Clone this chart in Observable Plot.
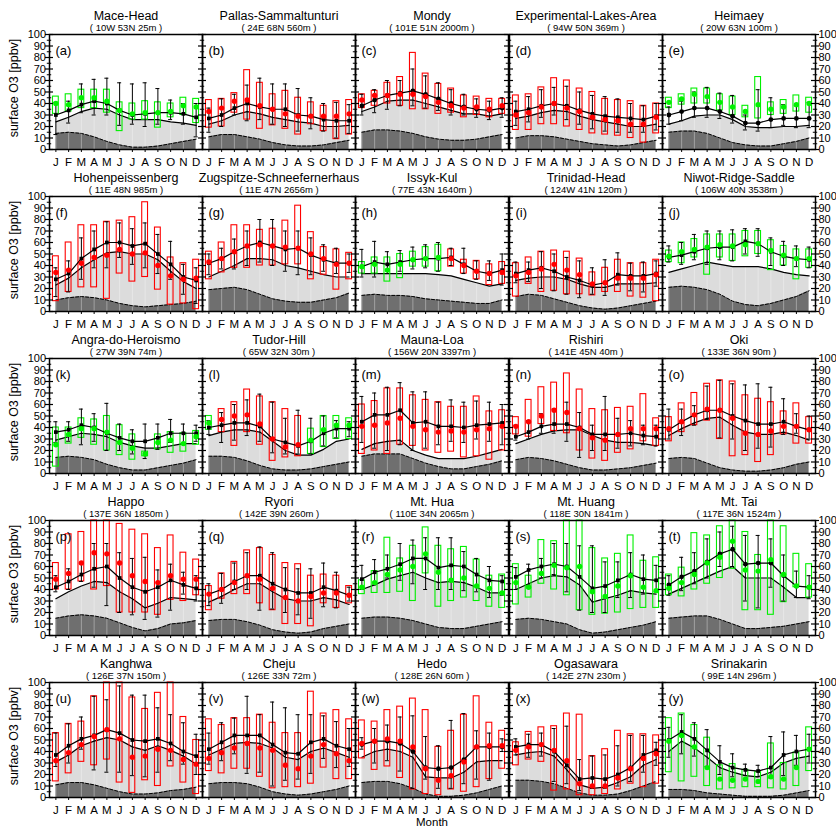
<!DOCTYPE html>
<html><head><meta charset="utf-8">
<script src="https://cdn.jsdelivr.net/npm/d3@7"></script>
<script src="https://cdn.jsdelivr.net/npm/@observablehq/plot@0.6"></script>
<style>
body{margin:0;background:#fff;}
#wrap{position:relative;width:836px;height:827px;overflow:hidden;font-family:"Liberation Sans",Arial,sans-serif;}
#wrap svg{position:absolute;}
</style></head><body><div id="wrap"></div>
<script>
const months = ["J","F","M","A","M","J","J","A","S","O","N","D"];
const stations = ["Mace-Head","Pallas-Sammaltunturi","Mondy","Experimental-Lakes-Area","Heimaey",
 "Hohenpeissenberg","Zugspitze-Schneefernerhaus","Issyk-Kul","Trinidad-Head","Niwot-Ridge-Saddle",
 "Angra-do-Heroismo","Tudor-Hill","Mauna-Loa","Rishiri","Oki",
 "Happo","Ryori","Mt. Hua","Mt. Huang","Mt. Tai",
 "Kanghwa","Cheju","Hedo","Ogasawara","Srinakarin"];
const coords = ["( 10W 53N 25m )","( 24E 68N 560m )","( 101E 51N 2000m )","( 94W 50N 369m )","( 20W 63N 100m )",
 "( 11E 48N 985m )","( 11E 47N 2656m )","( 77E 43N 1640m )","( 124W 41N 120m )","( 106W 40N 3538m )",
 "( 27W 39N 74m )","( 65W 32N 30m )","( 156W 20N 3397m )","( 141E 45N 40m )","( 133E 36N 90m )",
 "( 137E 36N 1850m )","( 142E 39N 260m )","( 110E 34N 2065m )","( 118E 30N 1841m )","( 117E 36N 1524m )",
 "( 126E 37N 150m )","( 126E 33N 72m )","( 128E 26N 60m )","( 142E 27N 230m )","( 99E 14N 296m )"];
const letters = "abcdefghijklmnopqrstuvwxy".split("");
const yTicks = [0,10,20,30,40,50,60,70,80,90,100];
const yMinor = [5,15,25,35,45,55,65,75,85,95];

// model mean (black markers and upper line)
const modMean = [
 [30,34,39,42,40,34,30,31,32,32,31,28],
 [27,30,36,40,37,35,35,30,29,26,25,25],
 [38,43,47,49,51,48,44,40,37,35,34,36],
 [33,35,38,40,38,34,31,29,28,27,26,29],
 [30,33,36,36,33,29,23,23,26,27,27,27],
 [28,33,46,54,60,60,57,59,50,41,30,27],
 [42,46,52,57,60,57,54,55,49,45,42,42],
 [39,43,41,43,45,46,46,47,41,35,33,36],
 [33,36,38,35,30,27,23,25,32,31,31,33],
 [47,49,52,55,56,56,61,59,52,48,46,45],
 [36,38,42,40,35,31,28,28,31,35,35,35],
 [40,42,44,44,41,30,27,24,28,35,39,39],
 [45,51,51,55,44,45,41,41,40,42,43,44],
 [32,36,41,43,43,40,34,34,34,35,33,32],
 [38,45,51,55,55,50,46,43,43,45,41,38],
 [42,47,53,58,60,50,42,38,42,48,44,41],
 [36,40,47,52,52,45,40,37,37,42,39,35],
 [49,55,58,62,67,67,59,61,60,53,48,47],
 [51,57,60,62,60,51,41,43,48,53,49,48],
 [44,51,56,64,71,75,62,63,63,52,43,42],
 [37,45,51,54,59,56,50,49,51,47,40,36],
 [42,48,54,54,54,46,39,38,48,51,45,42],
 [46,49,49,47,40,26,25,26,33,44,44,44],
 [44,46,46,40,28,16,17,16,20,26,37,41],
 [50,57,51,41,31,26,24,23,26,37,40,42]];
const modLow = [
 [13,23,32,30,30,21,22,20,22,26,22,11],
 [15,20,30,25,26,22,20,16,18,16,10,14],
 [30,32,35,38,38,36,34,30,30,28,26,28],
 [21,24,28,30,26,22,18,16,15,15,15,17],
 [22,25,28,28,27,23,17,16,19,21,19,19],
 [13,17,28,38,38,47,41,38,33,28,15,7],
 [32,37,37,40,43,40,35,32,32,35,33,34],
 [30,30,33,35,37,38,35,40,33,28,27,23],
 [25,26,20,18,15,12,15,14,23,18,17,22],
 [43,41,45,41,45,44,50,48,40,40,39,38],
 [27,28,25,28,20,20,17,13,21,27,26,28],
 [34,27,29,33,28,18,17,17,17,24,31,32],
 [27,22,20,25,20,22,25,28,27,30,28,25],
 [29,30,35,35,28,14,20,20,22,24,25,24],
 [30,33,42,47,31,30,20,22,23,34,35,30],
 [38,40,47,42,26,20,18,14,16,22,36,30],
 [26,28,40,40,22,23,20,18,15,25,24,30],
 [40,44,50,48,45,40,40,40,39,38,33,35],
 [40,44,50,53,38,22,20,20,33,33,36,38],
 [35,39,45,50,60,60,30,24,42,30,33,32],
 [27,30,42,24,22,22,19,18,22,32,29,20],
 [29,32,38,21,22,10,15,16,21,34,26,27],
 [42,30,32,23,8,16,8,8,12,16,15,40],
 [37,35,36,14,12,6,8,8,10,14,22,28],
 [35,38,36,27,20,18,19,18,17,19,28,30]];
const modHigh = [
 [41,42,57,61,62,58,57,58,53,43,40,40],
 [36,44,48,56,62,57,57,53,45,40,41,39],
 [48,52,60,60,70,64,58,52,48,44,42,45],
 [42,46,52,54,55,50,47,46,44,40,38,40],
 [37,42,50,54,49,47,30,52,45,39,38,41],
 [38,44,64,70,78,77,72,77,67,61,41,38],
 [50,55,63,70,80,80,70,70,64,58,55,50],
 [54,61,52,53,56,58,60,55,55,44,44,50],
 [43,43,52,50,47,44,38,45,51,42,43,44],
 [57,60,67,70,70,71,72,72,64,61,57,56],
 [45,45,56,52,61,43,38,43,43,47,43,42],
 [46,53,60,64,69,62,48,55,48,50,46,45],
 [67,70,75,79,71,71,62,64,62,63,62,60],
 [42,46,52,56,62,53,42,67,48,46,42,42],
 [56,56,59,76,81,78,77,78,75,65,52,50],
 [52,58,63,80,80,72,67,68,57,62,55,52],
 [45,54,63,72,77,72,59,58,58,63,55,42],
 [61,66,70,80,83,85,85,85,73,67,60,52],
 [59,62,67,80,80,78,78,64,64,72,70,61],
 [52,68,72,84,90,95,87,87,84,70,56,52],
 [56,64,70,88,85,97,89,89,78,72,65,55],
 [56,65,69,88,72,83,78,72,72,71,66,60],
 [52,60,63,70,71,53,45,67,73,58,56,51],
 [51,55,56,60,62,33,36,37,45,54,54,48],
 [61,72,65,59,45,38,29,28,53,57,54,55]];
// observations (coloured dots and boxes)
const obsMean = [
 [40,39,45,45,42,34,31,32,32,33,38,37],
 [33,36,42,43,38,35,31,29,29,29,29,31],
 [43,47,47,48,48,46,41,38,36,37,35,38],
 [30,32,37,40,36,33,28,26,25,22,22,28],
 [41,44,48,46,41,37,33,39,35,37,39,40],
 [34,36,42,47,49,54,50,51,40,31,28,29],
 [43,46,52,57,58,57,56,55,50,46,41,42],
 [39,41,36,41,45,46,47,46,40,35,33,34],
 [31,34,37,41,36,32,24,25,29,29,29,32],
 [48,52,54,56,58,57,58,59,53,49,46,46],
 [25,34,39,39,36,27,22,17,27,29,26,32],
 [44,47,50,51,43,30,23,25,29,38,42,42],
 [41,42,44,48,41,38,36,37,36,38,39,41],
 [41,45,50,55,53,39,31,29,34,39,39,39],
 [39,45,51,56,55,48,35,34,37,41,41,38],
 [49,54,63,72,71,63,52,47,46,52,49,49],
 [36,40,46,52,49,41,33,30,34,37,37,35],
 [42,46,53,57,60,71,55,48,50,43,41,37],
 [46,42,54,61,59,60,38,34,43,52,42,39],
 [41,46,53,63,68,82,57,56,66,53,43,42],
 [32,39,46,53,59,51,35,36,42,41,33,29],
 [34,39,43,47,43,41,28,25,36,46,38,32],
 [47,49,51,49,44,25,15,19,31,44,45,45],
 [41,44,46,41,32,12,10,10,17,25,34,38],
 [49,54,44,26,16,15,16,14,18,16,26,42]];
const obsLow = [
 [31,33,36,36,32,16,26,26,19,28,30,23],
 [19,20,32,26,18,21,18,13,22,16,9,13],
 [36,38,40,38,35,35,31,32,28,30,28,31],
 [17,17,22,22,20,17,14,13,12,10,6,14],
 [36,39,40,40,34,30,28,27,30,31,33,32],
 [9,17,21,21,11,33,26,30,19,6,7,2],
 [28,34,38,38,40,40,41,41,28,32,19,28],
 [33,33,26,29,39,39,35,39,33,28,23,24],
 [13,24,17,18,15,15,14,17,17,13,12,9],
 [43,42,47,32,47,44,48,50,36,40,28,38],
 [6,26,31,25,20,16,12,15,21,18,19,25],
 [38,36,24,36,25,11,14,15,17,23,30,30],
 [17,20,17,25,24,20,18,19,14,15,12,20],
 [34,32,43,37,35,20,13,11,18,21,28,24],
 [28,36,42,46,30,15,16,10,16,34,26,26],
 [40,40,47,40,43,20,20,20,18,31,30,35],
 [22,32,36,36,28,22,10,10,8,28,24,28],
 [36,37,37,38,30,54,25,30,33,30,25,24],
 [27,33,45,40,35,22,18,19,20,23,24,24],
 [35,34,40,45,50,58,22,22,18,29,42,33],
 [14,21,31,28,33,13,4,15,10,27,13,3],
 [23,21,25,25,18,8,9,9,12,26,16,16],
 [34,24,27,17,7,3,2,7,5,9,16,25],
 [28,33,31,6,7,2,2,3,7,12,9,12],
 [22,14,18,10,7,8,9,9,8,7,10,23]];
const obsHigh = [
 [46,48,52,52,52,41,40,42,41,40,45,44],
 [43,44,49,69,58,48,51,45,41,38,42,43],
 [48,51,58,63,84,66,57,53,47,46,44,44],
 [47,48,54,62,60,53,50,44,43,42,38,40],
 [45,48,53,53,48,46,38,63,41,43,47,45],
 [48,60,75,75,78,79,82,95,73,47,42,45],
 [52,60,75,75,71,72,79,92,69,56,54,51],
 [43,47,47,50,52,56,58,54,45,44,41,43],
 [42,47,52,53,52,46,34,38,45,42,42,45],
 [53,60,63,67,67,67,70,70,62,57,54,54],
 [40,40,48,47,50,42,34,19,34,36,35,37],
 [50,56,62,73,67,62,56,50,39,50,50,48],
 [60,63,74,74,68,64,62,58,58,67,54,55],
 [49,64,75,79,87,73,56,55,57,58,69,48],
 [49,61,70,78,81,80,68,65,62,54,61,49],
 [63,88,90,100,100,97,92,88,76,87,72,66],
 [43,54,64,74,76,70,63,62,52,53,52,43],
 [48,56,85,67,78,94,78,75,77,66,52,53],
 [62,52,83,82,100,100,76,67,71,87,65,68],
 [53,59,89,87,95,100,90,70,100,95,71,62],
 [56,64,66,88,100,100,87,77,91,100,70,50],
 [68,63,69,69,72,65,56,56,92,73,76,68],
 [67,66,76,79,86,76,44,58,72,88,65,58],
 [48,57,61,62,73,72,36,42,58,55,55,54],
 [69,73,63,52,28,29,24,22,47,30,39,61]];
const obsColor = [
 "gggggggggggg","rrrrrrrrrrrr","rrrrrrrrrrrr","rrrrrrrrrrrr","gggggggggggg",
 "rrrrrrrrrrrr","rrrrrrrrrrrr","gggggggrrrrr","rrrrrrrrrrrr","gggggggggggg",
 "gggggggggggg","grrrrrrrgggg","rrrrrrrrrrrr","rrrrrrrrrrrr","rrrrrrrrrrrr",
 "rrrrrrrrrrrr","rrrrrrrrrrrr","gggggggggggg","gggggggggggg","gggggggggggg",
 "rrrrrrrrrrrr","rrrrrrrrrrrr","rrrrrrrrrrrr","rrrrrrrrrrrr","gggggggggggg"];
// lower solid line (top of light grey) and dashed line (top of dark grey)
const lowerLine = [
 [24,28,33,36,35,30,26,26,26,24,23,21],
 [22,25,30,33,31,28,26,24,23,20,20,21],
 [33,37,42,43,43,40,37,34,31,31,29,31],
 [27,29,32,34,33,29,26,24,22,20,20,22],
 [22,25,29,30,30,26,20,19,19,20,20,21],
 [23,29,38,45,51,52,50,50,45,35,26,20],
 [30,35,40,46,46,45,40,38,35,32,30,30],
 [33,33,33,33,33,33,32,31,28,25,22,24],
 [27,29,30,30,28,24,21,21,24,24,24,25],
 [34,37,40,43,41,39,39,39,37,34,32,31],
 [29,32,35,34,32,27,24,22,22,24,26,26],
 [33,36,38,38,36,28,20,16,16,21,28,30],
 [21,26,28,29,20,16,13,13,13,15,18,21],
 [26,30,34,37,38,38,33,29,27,27,26,24],
 [33,39,44,48,49,42,36,34,34,36,33,29],
 [32,38,43,47,46,38,32,24,28,33,32,31],
 [29,34,40,45,45,38,32,30,30,33,31,27],
 [40,44,49,52,55,50,46,47,46,42,37,37],
 [40,45,50,52,51,44,29,32,35,39,37,36],
 [36,41,46,51,56,60,50,50,50,42,33,33],
 [31,37,45,49,52,50,44,41,45,41,36,29],
 [37,42,47,48,47,43,35,33,40,43,39,35],
 [35,40,42,40,35,18,17,17,22,31,32,32],
 [37,39,40,36,24,11,8,9,13,18,28,33],
 [40,49,43,35,26,22,19,18,22,30,34,36]];
const bgLine = [
 [14,15,14,11,7,4,2,2,3,5,7,9],
 [11,13,13,11,9,6,4,3,3,4,6,8],
 [15,17,17,16,14,11,9,8,8,9,11,13],
 [10,12,12,11,9,7,5,4,3,4,6,8],
 [15,16,16,14,10,6,4,3,3,5,7,10],
 [10,12,13,12,10,7,5,4,5,6,7,9],
 [19,20,21,19,15,11,9,8,8,10,12,16],
 [14,15,14,14,13,11,10,9,8,7,7,10],
 [13,15,14,11,8,5,3,2,3,5,7,9],
 [21,22,21,19,15,9,6,5,7,10,13,18],
 [14,15,14,12,8,5,3,3,5,7,9,12],
 [15,15,14,11,7,4,3,3,4,6,8,10],
 [15,17,17,17,13,9,6,4,4,6,8,11],
 [12,14,13,11,8,5,3,3,4,5,7,9],
 [13,14,13,9,5,3,2,2,3,5,8,10],
 [15,17,18,17,15,11,7,4,6,10,11,13],
 [13,14,14,12,9,5,3,2,3,6,8,10],
 [15,16,16,15,13,10,7,6,6,8,10,12],
 [14,15,14,12,10,5,2,3,5,7,9,12],
 [15,16,17,17,14,10,6,6,7,8,10,12],
 [11,13,13,11,8,5,3,3,4,6,7,9],
 [12,13,13,12,9,5,3,2,3,5,7,10],
 [13,14,14,12,8,3,1,1,2,4,7,10],
 [15,15,14,12,8,4,2,2,3,6,10,14],
 [7,7,6,4,3,2,1,1,1,2,4,6]];
const markerShape = "sscscsssssssssssssscsscssc".slice(0,25);

const RED = "#ff0000", GREEN = "#00f000", LIGHT = "#dcdcdc", DARK = "#6f6f6f";
const W = 153, H = 115, U = W / 12;
const wrap = document.getElementById("wrap");

function drawPanel(i) {
  const r = Math.floor(i / 5), c = i % 5;
  const data = months.map((m, k) => ({
    k, mod: modMean[i][k], lo: modLow[i][k], hi: modHigh[i][k],
    obs: obsMean[i][k], olo: obsLow[i][k], ohi: obsHigh[i][k],
    col: obsColor[i][k] === "g" ? GREEN : RED,
    low: lowerLine[i][k], bg: bgLine[i][k]
  }));
  const L = -0.5, R = 11.5, maj = 4 / U, mnr = 2.2 / U, BOX = 2.9 / U, CAP = 2 / U;
  const sq = markerShape[i] === "s";
  const marks = [
    Plot.areaY(data, {x: "k", y: "low", fill: LIGHT}),
    Plot.areaY(data, {x: "k", y: "bg", fill: DARK}),
    Plot.ruleX(data, {x: "k", y1: 0, y2: "low", stroke: "#fff", strokeOpacity: 0.5, strokeWidth: 0.7}),
    Plot.lineY(data, {x: "k", y: "bg", stroke: "#000", strokeWidth: 1, strokeDasharray: "3,2"}),
    Plot.lineY(data, {x: "k", y: "low", stroke: "#000", strokeWidth: 1.2}),
    Plot.rect(data, {x1: d => d.k - BOX, x2: d => d.k + BOX, y1: "olo", y2: "ohi", stroke: "col", strokeWidth: 1.1, fill: "none"}),
    Plot.ruleX(data, {x: "k", y1: "lo", y2: "hi", stroke: "#000", strokeWidth: 1}),
    Plot.ruleY(data, {y: "lo", x1: d => d.k - CAP, x2: d => d.k + CAP, stroke: "#000", strokeWidth: 1}),
    Plot.ruleY(data, {y: "hi", x1: d => d.k - CAP, x2: d => d.k + CAP, stroke: "#000", strokeWidth: 1}),
    Plot.lineY(data, {x: "k", y: "mod", stroke: "#000", strokeWidth: 1.2}),
    Plot.dot(data, {x: "k", y: "mod", fill: "#000", symbol: sq ? "square" : "circle", r: sq ? 2.1 : 2.4}),
    Plot.dot(data, {x: "k", y: "obs", fill: "col", r: 2.7}),
    Plot.frame({stroke: "#000", strokeWidth: 1.5}),
    Plot.ruleY(yTicks, {y: d => d, x1: L - (c === 0 ? maj : 0), x2: L + maj, stroke: "#000", strokeWidth: 1.2}),
    Plot.ruleY(yMinor, {y: d => d, x1: L - (c === 0 ? mnr : 0), x2: L + mnr, stroke: "#000", strokeWidth: 1}),
    Plot.ruleY(yTicks, {y: d => d, x1: R - maj, x2: R + (c === 4 ? maj : 0), stroke: "#000", strokeWidth: 1.2}),
    Plot.ruleY(yMinor, {y: d => d, x1: R - mnr, x2: R + (c === 4 ? mnr : 0), stroke: "#000", strokeWidth: 1}),
    Plot.ruleX(months, {x: (d, k) => k, y1: 0, y2: -2.6, stroke: "#000", strokeWidth: 1}),
    Plot.text(months, {x: (d, k) => k, text: d => d, frameAnchor: "bottom", dy: 13, lineAnchor: "middle", fontSize: 11.5}),
    Plot.text([stations[i]], {text: d => d, frameAnchor: "top", dy: -19, lineAnchor: "middle", fontSize: 12.5}),
    Plot.text([coords[i]], {text: d => d, frameAnchor: "top", dy: -7, lineAnchor: "middle", fontSize: 9.5}),
    Plot.text([`(${letters[i]})`], {text: d => d, frameAnchor: "top-left", dx: 6, dy: 16, textAnchor: "start", lineAnchor: "middle", fontSize: 13})
  ];
  if (c === 0) {
    marks.push(Plot.text(yTicks, {x: L, y: d => d, text: d => String(d), dx: -3.5, textAnchor: "end", lineAnchor: "middle", fontSize: 11}));
    marks.push(Plot.text(["surface O3 [ppbv]"], {text: d => d, frameAnchor: "left", dx: -36, dy: -4, rotate: -90, textAnchor: "middle", lineAnchor: "middle", fontSize: 12.5}));
  }
  if (c === 4) {
    marks.push(Plot.text(yTicks, {x: R, y: d => d, text: d => String(d), dx: 3, textAnchor: "start", lineAnchor: "middle", fontSize: 11}));
  }
  if (r === 4 && c === 2) {
    marks.push(Plot.text(["Month"], {text: d => d, frameAnchor: "bottom", dy: 24.5, lineAnchor: "middle", fontSize: 11.5}));
  }
  const svg = Plot.plot({
    width: W, height: H,
    marginTop: 0, marginBottom: 0, marginLeft: 0, marginRight: 0,
    x: {domain: [L, R], axis: null},
    y: {domain: [0, 100], axis: null},
    color: {type: "identity"},
    style: {background: "transparent", overflow: "visible", fontFamily: "'Liberation Sans', Arial, sans-serif", fontSize: "12px", color: "#000"},
    marks
  });
  svg.style.left = Math.round(49 + 153.2 * c) + "px";
  svg.style.top = (34.3 + 162 * r) + "px";
  wrap.appendChild(svg);
}
for (let i = 0; i < 25; i++) drawPanel(i);
</script></body></html>
